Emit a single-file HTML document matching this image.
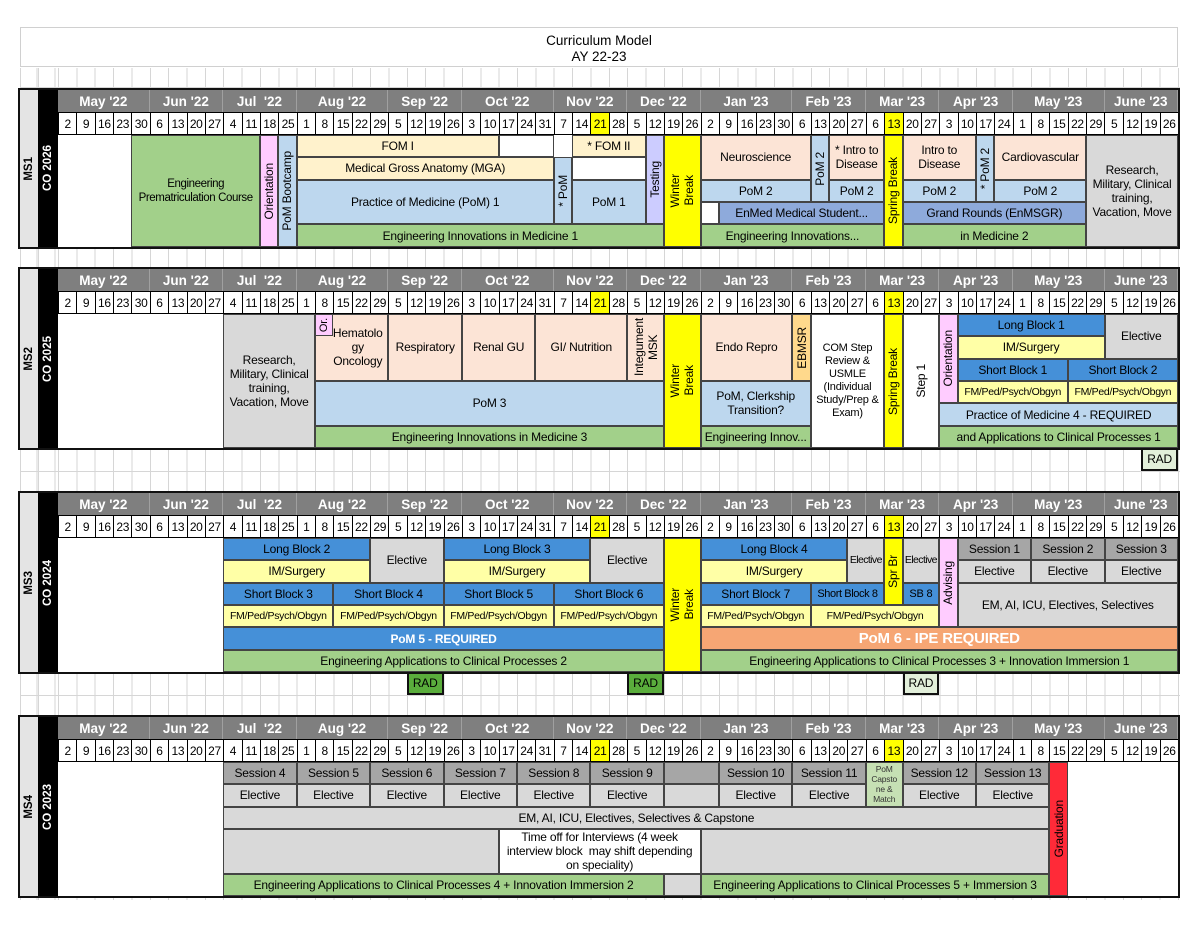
<!DOCTYPE html>
<html><head><meta charset="utf-8">
<style>
body{margin:0;width:1200px;height:928px;position:relative;overflow:hidden;background:#fff;font-family:"Liberation Sans",sans-serif;color:#000}
.gridbg{position:absolute;left:20px;top:68px;width:1160px;height:832px;
background-image:repeating-linear-gradient(to right,#d6d6d6 0 1px,transparent 1px 18.36px),repeating-linear-gradient(to bottom,#d6d6d6 0 1px,transparent 1px 22.4px);
background-position:38px 0,0 22px;}
.gridbg:before{content:"";position:absolute;left:18px;top:0;width:1px;height:100%;background:#d6d6d6}
.gridbg:after{content:"";position:absolute;left:0;top:0;width:1px;height:100%;background:#d6d6d6}
.title{position:absolute;left:20px;top:27px;width:1158px;height:40px;border:1px solid #d0d0d0;background:#fff;text-align:center;font-size:13.5px;line-height:16px;padding-top:5px;box-sizing:border-box}
.frame{position:absolute;left:18px;width:1158px;border:2px solid #111;background:#fff}
.lab1{position:absolute;left:20px;width:18px;background:#e4e4e4;display:flex;align-items:center;justify-content:center}
.lab2{position:absolute;left:38px;width:20px;background:#000;color:#fff;display:flex;align-items:center;justify-content:center}
.lab1 span,.lab2 span{writing-mode:vertical-rl;transform:rotate(180deg);font-weight:bold;font-size:11.5px;white-space:nowrap}
.mon{position:absolute;left:58px;width:1120px;height:22.4px;display:flex;background:#7f7f7f}
.mon div{flex:1 1 0;color:#fff;font-weight:bold;font-size:13.5px;display:flex;align-items:center;justify-content:center;border-right:1px solid #a0a0a0;box-sizing:border-box;white-space:pre}
.wk{position:absolute;left:58px;width:1120px;height:23px;display:flex;background:#fff;border-top:1px solid #000;border-bottom:1px solid #000;box-sizing:border-box}
.wk span{flex:1 1 0;border-left:1px solid #000;font-size:12px;display:flex;align-items:center;justify-content:center;letter-spacing:-0.3px}
.wk span.y{background:#ffff00}
.s{position:absolute;left:0;top:0;width:1200px;height:0}
.b{position:absolute;left:calc(58px + var(--c)*18.36px);width:calc(var(--w)*18.36px);top:calc(var(--r,0)*22.4px);height:calc(var(--h,1)*22.4px);box-sizing:border-box;border:1px solid #444;display:flex;align-items:center;justify-content:center;text-align:center;font-size:12px;line-height:14px;overflow:hidden;letter-spacing:-0.2px}
.v span{writing-mode:vertical-rl;transform:rotate(180deg);white-space:nowrap}
.G{background:#a2d08a}.LB{background:#bdd7ee}.BE{background:#fff2cc}.PE{background:#fce4d6}.MB{background:#8eaadb}.Y{background:#ffff00}.GR{background:#d9d9d9}.LV{background:#ccccff}.PK{background:#ffccff}.BL{background:#4590d8}.LY{background:#ffffa6}.OR{background:#f6a674}.EB{background:#ffd98c}.SG{background:#a6a6a6}.RD{background:#ff2a38}.W{background:#fff}.CAP{background:#c6e0b4}
.rad{border:2.5px solid #111;font-size:12px}
.fm{font-size:10.5px;letter-spacing:-0.3px}
</style></head><body>
<div class="gridbg"></div>
<div class="title">Curriculum Model<br>AY 22-23</div>

<!-- ================= MS1 ================= -->
<div class="frame" style="top:88px;height:157px"></div>
<div class="lab1" style="top:90px;height:157px"><span>MS1</span></div>
<div class="lab2" style="top:90px;height:157px"><span>CO 2026</span></div>
<div class="mon" style="top:90px"><div style="flex-grow:5">May '22</div><div style="flex-grow:4">Jun '22</div><div style="flex-grow:4">Jul  '22</div><div style="flex-grow:5">Aug '22</div><div style="flex-grow:4">Sep '22</div><div style="flex-grow:5">Oct '22</div><div style="flex-grow:4">Nov '22</div><div style="flex-grow:4">Dec '22</div><div style="flex-grow:5">Jan '23</div><div style="flex-grow:4">Feb '23</div><div style="flex-grow:4">Mar '23</div><div style="flex-grow:4">Apr '23</div><div style="flex-grow:5">May '23</div><div style="flex-grow:4">June '23</div></div>
<div class="wk" style="top:112.4px"><span>2</span><span>9</span><span>16</span><span>23</span><span>30</span><span>6</span><span>13</span><span>20</span><span>27</span><span>4</span><span>11</span><span>18</span><span>25</span><span>1</span><span>8</span><span>15</span><span>22</span><span>29</span><span>5</span><span>12</span><span>19</span><span>26</span><span>3</span><span>10</span><span>17</span><span>24</span><span>31</span><span>7</span><span>14</span><span class="y">21</span><span>28</span><span>5</span><span>12</span><span>19</span><span>26</span><span>2</span><span>9</span><span>16</span><span>23</span><span>30</span><span>6</span><span>13</span><span>20</span><span>27</span><span>6</span><span class="y">13</span><span>20</span><span>27</span><span>3</span><span>10</span><span>17</span><span>24</span><span>1</span><span>8</span><span>15</span><span>22</span><span>29</span><span>5</span><span>12</span><span>19</span><span>26</span></div>
<div class="s" style="top:134.8px">
<div class="b G" style="--c:4;--w:7;--h:5;font-size:11.5px;letter-spacing:-0.4px;white-space:nowrap">Engineering<br>Prematriculation Course</div>
<div class="b PK v" style="--c:11;--w:1;--h:5"><span>Orientation</span></div>
<div class="b LB v" style="--c:12;--w:1;--h:5"><span>PoM Bootcamp</span></div>
<div class="b BE" style="--c:13;--w:11">FOM I</div>
<div class="b W" style="--c:24;--w:3"></div>
<div class="b BE" style="--c:13;--w:14;--r:1">Medical Gross Anatomy (MGA)</div>
<div class="b LB" style="--c:13;--w:14;--r:2;--h:2">Practice of Medicine (PoM) 1</div>
<div class="b G" style="--c:13;--w:20;--r:4">Engineering Innovations in Medicine 1</div>
<div class="b LB v" style="--c:27;--w:1;--r:1;--h:3"><span>* PoM</span></div>
<div class="b BE" style="--c:28;--w:4">* FOM II</div>
<div class="b W" style="--c:28;--w:4;--r:1"></div>
<div class="b LB" style="--c:28;--w:4;--r:2;--h:2">PoM 1</div>
<div class="b LV v" style="--c:32;--w:1;--h:4"><span>Testing</span></div>
<div class="b Y v" style="--c:33;--w:2;--h:5"><span>Winter<br>Break</span></div>
<div class="b PE" style="--c:35;--w:6;--h:2">Neuroscience</div>
<div class="b LB v" style="--c:41;--w:1;--h:3"><span>PoM 2</span></div>
<div class="b PE" style="--c:42;--w:3;--h:2">* Intro to<br>Disease</div>
<div class="b LB" style="--c:35;--w:6;--r:2">PoM 2</div>
<div class="b LB" style="--c:42;--w:3;--r:2">PoM 2</div>
<div class="b W" style="--c:35;--w:1;--r:3"></div>
<div class="b MB" style="--c:36;--w:9;--r:3">EnMed Medical Student...</div>
<div class="b G" style="--c:35;--w:10;--r:4">Engineering Innovations...</div>
<div class="b Y v" style="--c:45;--w:1;--h:5"><span>Spring Break</span></div>
<div class="b PE" style="--c:46;--w:4;--h:2">Intro to<br>Disease</div>
<div class="b LB v" style="--c:50;--w:1;--h:3"><span>* PoM 2</span></div>
<div class="b PE" style="--c:51;--w:5;--h:2">Cardiovascular</div>
<div class="b LB" style="--c:46;--w:4;--r:2">PoM 2</div>
<div class="b LB" style="--c:51;--w:5;--r:2">PoM 2</div>
<div class="b MB" style="--c:46;--w:10;--r:3">Grand Rounds (EnMSGR)</div>
<div class="b G" style="--c:46;--w:10;--r:4">in Medicine 2</div>
<div class="b GR" style="--c:56;--w:5;--h:5">Research,<br>Military, Clinical<br>training,<br>Vacation, Move</div>
</div>

<!-- ================= MS2 ================= -->
<div class="frame" style="top:267px;height:179.2px"></div>
<div class="lab1" style="top:269px;height:179.2px"><span>MS2</span></div>
<div class="lab2" style="top:269px;height:179.2px"><span>CO 2025</span></div>
<div class="mon" style="top:269px"><div style="flex-grow:5">May '22</div><div style="flex-grow:4">Jun '22</div><div style="flex-grow:4">Jul  '22</div><div style="flex-grow:5">Aug '22</div><div style="flex-grow:4">Sep '22</div><div style="flex-grow:5">Oct '22</div><div style="flex-grow:4">Nov '22</div><div style="flex-grow:4">Dec '22</div><div style="flex-grow:5">Jan '23</div><div style="flex-grow:4">Feb '23</div><div style="flex-grow:4">Mar '23</div><div style="flex-grow:4">Apr '23</div><div style="flex-grow:5">May '23</div><div style="flex-grow:4">June '23</div></div>
<div class="wk" style="top:291.4px"><span>2</span><span>9</span><span>16</span><span>23</span><span>30</span><span>6</span><span>13</span><span>20</span><span>27</span><span>4</span><span>11</span><span>18</span><span>25</span><span>1</span><span>8</span><span>15</span><span>22</span><span>29</span><span>5</span><span>12</span><span>19</span><span>26</span><span>3</span><span>10</span><span>17</span><span>24</span><span>31</span><span>7</span><span>14</span><span class="y">21</span><span>28</span><span>5</span><span>12</span><span>19</span><span>26</span><span>2</span><span>9</span><span>16</span><span>23</span><span>30</span><span>6</span><span>13</span><span>20</span><span>27</span><span>6</span><span class="y">13</span><span>20</span><span>27</span><span>3</span><span>10</span><span>17</span><span>24</span><span>1</span><span>8</span><span>15</span><span>22</span><span>29</span><span>5</span><span>12</span><span>19</span><span>26</span></div>
<div class="s" style="top:313.8px">
<div class="b GR" style="--c:9;--w:5;--h:6">Research,<br>Military, Clinical<br>training,<br>Vacation, Move</div>
<div class="b PE" style="--c:14;--w:4;--h:3;padding-left:12px">Hematolo<br>gy<br>Oncology</div>
<div class="b PK v" style="--c:14;--w:1;font-size:11px"><span>Or.</span></div>
<div class="b PE" style="--c:18;--w:4;--h:3">Respiratory</div>
<div class="b PE" style="--c:22;--w:4;--h:3">Renal GU</div>
<div class="b PE" style="--c:26;--w:5;--h:3">GI/ Nutrition</div>
<div class="b PE v" style="--c:31;--w:2;--h:3"><span>Integument<br>MSK</span></div>
<div class="b LB" style="--c:14;--w:19;--r:3;--h:2">PoM 3</div>
<div class="b G" style="--c:14;--w:19;--r:5">Engineering Innovations in Medicine 3</div>
<div class="b Y v" style="--c:33;--w:2;--h:6"><span>Winter<br>Break</span></div>
<div class="b PE" style="--c:35;--w:5;--h:3">Endo Repro</div>
<div class="b EB v" style="--c:40;--w:1;--h:3"><span>EBMSR</span></div>
<div class="b LB" style="--c:35;--w:6;--r:3;--h:2">PoM, Clerkship<br>Transition?</div>
<div class="b G" style="--c:35;--w:6;--r:5">Engineering Innov...</div>
<div class="b W" style="--c:41;--w:4;--h:6;font-size:11px;line-height:13px">COM Step<br>Review &amp;<br>USMLE<br>(Individual<br>Study/Prep &amp;<br>Exam)</div>
<div class="b Y v" style="--c:45;--w:1;--h:6"><span>Spring Break</span></div>
<div class="b W v" style="--c:46;--w:2;--h:6"><span>Step 1</span></div>
<div class="b PK v" style="--c:48;--w:1;--h:4"><span>Orientation</span></div>
<div class="b BL" style="--c:49;--w:8">Long Block 1</div>
<div class="b LY" style="--c:49;--w:8;--r:1">IM/Surgery</div>
<div class="b GR" style="--c:57;--w:4;--h:2">Elective</div>
<div class="b BL" style="--c:49;--w:6;--r:2">Short Block 1</div>
<div class="b BL" style="--c:55;--w:6;--r:2">Short Block 2</div>
<div class="b LY fm" style="--c:49;--w:6;--r:3">FM/Ped/Psych/Obgyn</div>
<div class="b LY fm" style="--c:55;--w:6;--r:3">FM/Ped/Psych/Obgyn</div>
<div class="b LB" style="--c:48;--w:13;--r:4">Practice of Medicine 4 - REQUIRED</div>
<div class="b G" style="--c:48;--w:13;--r:5">and Applications to Clinical Processes 1</div>
<div class="b rad" style="--c:59;--w:2;--r:6;background:#e2efda">RAD</div>
</div>

<!-- ================= MS3 ================= -->
<div class="frame" style="top:491px;height:179.2px"></div>
<div class="lab1" style="top:493px;height:179.2px"><span>MS3</span></div>
<div class="lab2" style="top:493px;height:179.2px"><span>CO 2024</span></div>
<div class="mon" style="top:493px"><div style="flex-grow:5">May '22</div><div style="flex-grow:4">Jun '22</div><div style="flex-grow:4">Jul  '22</div><div style="flex-grow:5">Aug '22</div><div style="flex-grow:4">Sep '22</div><div style="flex-grow:5">Oct '22</div><div style="flex-grow:4">Nov '22</div><div style="flex-grow:4">Dec '22</div><div style="flex-grow:5">Jan '23</div><div style="flex-grow:4">Feb '23</div><div style="flex-grow:4">Mar '23</div><div style="flex-grow:4">Apr '23</div><div style="flex-grow:5">May '23</div><div style="flex-grow:4">June '23</div></div>
<div class="wk" style="top:515.4px"><span>2</span><span>9</span><span>16</span><span>23</span><span>30</span><span>6</span><span>13</span><span>20</span><span>27</span><span>4</span><span>11</span><span>18</span><span>25</span><span>1</span><span>8</span><span>15</span><span>22</span><span>29</span><span>5</span><span>12</span><span>19</span><span>26</span><span>3</span><span>10</span><span>17</span><span>24</span><span>31</span><span>7</span><span>14</span><span class="y">21</span><span>28</span><span>5</span><span>12</span><span>19</span><span>26</span><span>2</span><span>9</span><span>16</span><span>23</span><span>30</span><span>6</span><span>13</span><span>20</span><span>27</span><span>6</span><span class="y">13</span><span>20</span><span>27</span><span>3</span><span>10</span><span>17</span><span>24</span><span>1</span><span>8</span><span>15</span><span>22</span><span>29</span><span>5</span><span>12</span><span>19</span><span>26</span></div>
<div class="s" style="top:537.8px">
<div class="b BL" style="--c:9;--w:8">Long Block 2</div>
<div class="b LY" style="--c:9;--w:8;--r:1">IM/Surgery</div>
<div class="b GR" style="--c:17;--w:4;--h:2">Elective</div>
<div class="b BL" style="--c:21;--w:8">Long Block 3</div>
<div class="b LY" style="--c:21;--w:8;--r:1">IM/Surgery</div>
<div class="b GR" style="--c:29;--w:4;--h:2">Elective</div>
<div class="b BL" style="--c:9;--w:6;--r:2">Short Block 3</div>
<div class="b BL" style="--c:15;--w:6;--r:2">Short Block 4</div>
<div class="b BL" style="--c:21;--w:6;--r:2">Short Block 5</div>
<div class="b BL" style="--c:27;--w:6;--r:2">Short Block 6</div>
<div class="b LY fm" style="--c:9;--w:6;--r:3">FM/Ped/Psych/Obgyn</div>
<div class="b LY fm" style="--c:15;--w:6;--r:3">FM/Ped/Psych/Obgyn</div>
<div class="b LY fm" style="--c:21;--w:6;--r:3">FM/Ped/Psych/Obgyn</div>
<div class="b LY fm" style="--c:27;--w:6;--r:3">FM/Ped/Psych/Obgyn</div>
<div class="b BL" style="--c:9;--w:24;--r:4;color:#fff;font-weight:bold">PoM 5 - REQUIRED</div>
<div class="b G" style="--c:9;--w:24;--r:5">Engineering Applications to Clinical Processes 2</div>
<div class="b Y v" style="--c:33;--w:2;--h:6"><span>Winter<br>Break</span></div>
<div class="b BL" style="--c:35;--w:8">Long Block 4</div>
<div class="b LY" style="--c:35;--w:8;--r:1">IM/Surgery</div>
<div class="b GR" style="--c:43;--w:2;--h:2;font-size:10.5px;letter-spacing:-0.6px">Elective</div>
<div class="b Y v" style="--c:45;--w:1;--h:3"><span>Spr Br</span></div>
<div class="b GR" style="--c:46;--w:2;--h:2;font-size:10.5px;letter-spacing:-0.6px">Elective</div>
<div class="b BL" style="--c:35;--w:6;--r:2">Short Block 7</div>
<div class="b BL" style="--c:41;--w:4;--r:2;font-size:11px;letter-spacing:-0.4px">Short Block 8</div>
<div class="b BL" style="--c:46;--w:2;--r:2;font-size:11px">SB 8</div>
<div class="b LY fm" style="--c:35;--w:6;--r:3">FM/Ped/Psych/Obgyn</div>
<div class="b LY fm" style="--c:41;--w:7;--r:3">FM/Ped/Psych/Obgyn</div>
<div class="b PK v" style="--c:48;--w:1;--h:4"><span>Advising</span></div>
<div class="b SG" style="--c:49;--w:4">Session 1</div>
<div class="b SG" style="--c:53;--w:4">Session 2</div>
<div class="b SG" style="--c:57;--w:4">Session 3</div>
<div class="b GR" style="--c:49;--w:4;--r:1">Elective</div>
<div class="b GR" style="--c:53;--w:4;--r:1">Elective</div>
<div class="b GR" style="--c:57;--w:4;--r:1">Elective</div>
<div class="b GR" style="--c:49;--w:12;--r:2;--h:2">EM, AI, ICU, Electives, Selectives</div>
<div class="b OR" style="--c:35;--w:26;--r:4;color:#fff;font-weight:bold;font-size:15px">PoM 6 - IPE REQUIRED</div>
<div class="b G" style="--c:35;--w:26;--r:5">Engineering Applications to Clinical Processes 3 + Innovation Immersion 1</div>
<div class="b rad" style="--c:19;--w:2;--r:6;background:#5aad3c">RAD</div>
<div class="b rad" style="--c:31;--w:2;--r:6;background:#5aad3c">RAD</div>
<div class="b rad" style="--c:46;--w:2;--r:6;background:#e2efda">RAD</div>
</div>

<!-- ================= MS4 ================= -->
<div class="frame" style="top:715px;height:179.2px"></div>
<div class="lab1" style="top:717px;height:179.2px"><span>MS4</span></div>
<div class="lab2" style="top:717px;height:179.2px"><span>CO 2023</span></div>
<div class="mon" style="top:717px"><div style="flex-grow:5">May '22</div><div style="flex-grow:4">Jun '22</div><div style="flex-grow:4">Jul  '22</div><div style="flex-grow:5">Aug '22</div><div style="flex-grow:4">Sep '22</div><div style="flex-grow:5">Oct '22</div><div style="flex-grow:4">Nov '22</div><div style="flex-grow:4">Dec '22</div><div style="flex-grow:5">Jan '23</div><div style="flex-grow:4">Feb '23</div><div style="flex-grow:4">Mar '23</div><div style="flex-grow:4">Apr '23</div><div style="flex-grow:5">May '23</div><div style="flex-grow:4">June '23</div></div>
<div class="wk" style="top:739.4px"><span>2</span><span>9</span><span>16</span><span>23</span><span>30</span><span>6</span><span>13</span><span>20</span><span>27</span><span>4</span><span>11</span><span>18</span><span>25</span><span>1</span><span>8</span><span>15</span><span>22</span><span>29</span><span>5</span><span>12</span><span>19</span><span>26</span><span>3</span><span>10</span><span>17</span><span>24</span><span>31</span><span>7</span><span>14</span><span class="y">21</span><span>28</span><span>5</span><span>12</span><span>19</span><span>26</span><span>2</span><span>9</span><span>16</span><span>23</span><span>30</span><span>6</span><span>13</span><span>20</span><span>27</span><span>6</span><span class="y">13</span><span>20</span><span>27</span><span>3</span><span>10</span><span>17</span><span>24</span><span>1</span><span>8</span><span>15</span><span>22</span><span>29</span><span>5</span><span>12</span><span>19</span><span>26</span></div>
<div class="s" style="top:761.8px">
<div class="b SG" style="--c:9;--w:4">Session 4</div>
<div class="b SG" style="--c:13;--w:4">Session 5</div>
<div class="b SG" style="--c:17;--w:4">Session 6</div>
<div class="b SG" style="--c:21;--w:4">Session 7</div>
<div class="b SG" style="--c:25;--w:4">Session 8</div>
<div class="b SG" style="--c:29;--w:4">Session 9</div>
<div class="b SG" style="--c:33;--w:3"></div>
<div class="b SG" style="--c:36;--w:4">Session 10</div>
<div class="b SG" style="--c:40;--w:4">Session 11</div>
<div class="b CAP" style="--c:44;--w:2;--h:2;font-size:8.5px;line-height:10px;color:#333">PoM<br>Capsto<br>ne &amp;<br>Match</div>
<div class="b SG" style="--c:46;--w:4">Session 12</div>
<div class="b SG" style="--c:50;--w:4">Session 13</div>
<div class="b GR" style="--c:9;--w:4;--r:1">Elective</div>
<div class="b GR" style="--c:13;--w:4;--r:1">Elective</div>
<div class="b GR" style="--c:17;--w:4;--r:1">Elective</div>
<div class="b GR" style="--c:21;--w:4;--r:1">Elective</div>
<div class="b GR" style="--c:25;--w:4;--r:1">Elective</div>
<div class="b GR" style="--c:29;--w:4;--r:1">Elective</div>
<div class="b GR" style="--c:33;--w:3;--r:1"></div>
<div class="b GR" style="--c:36;--w:4;--r:1">Elective</div>
<div class="b GR" style="--c:40;--w:4;--r:1">Elective</div>
<div class="b GR" style="--c:46;--w:4;--r:1">Elective</div>
<div class="b GR" style="--c:50;--w:4;--r:1">Elective</div>
<div class="b GR" style="--c:9;--w:45;--r:2">EM, AI, ICU, Electives, Selectives &amp; Capstone</div>
<div class="b GR" style="--c:9;--w:15;--r:3;--h:2"></div>
<div class="b W" style="--c:24;--w:11;--r:3;--h:2">Time off for Interviews (4 week<br>interview block&nbsp; may shift depending<br>on speciality)</div>
<div class="b GR" style="--c:35;--w:19;--r:3;--h:2"></div>
<div class="b G" style="--c:9;--w:24;--r:5">Engineering Applications to Clinical Processes 4 + Innovation Immersion 2</div>
<div class="b GR" style="--c:33;--w:2;--r:5"></div>
<div class="b G" style="--c:35;--w:19;--r:5">Engineering Applications to Clinical Processes 5 + Immersion 3</div>
<div class="b RD v" style="--c:54;--w:1;--h:6"><span>Graduation</span></div>
</div>
</body></html>
